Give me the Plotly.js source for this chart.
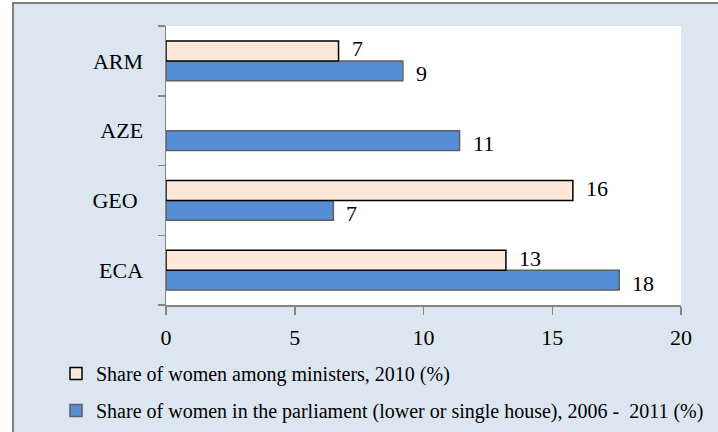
<!DOCTYPE html>
<html>
<head>
<meta charset="utf-8">
<script src="https://cdn.plot.ly/plotly-3.0.1.min.js"></script>
<style>
  html, body { margin: 0; padding: 0; background: #ffffff; }
  #chart { width: 718px; height: 432px; }
</style>
</head>
<body>
<div id="chart"></div>
<script>
// Countries / regions, listed bottom to top
const countries = ['ECA', 'GEO', 'AZE', 'ARM'];
// Axis labels for the countries (GEO carries a trailing space)
const countryLabels = ['ECA', 'GEO\u00a0', 'AZE', 'ARM'];

// Share of women among ministers, 2010 (%)
const ministersName = 'Share of women among ministers, 2010 (%)';
const ministers = [13.2, 15.8, null, 6.7];

// Share of women in the parliament (lower or single house), 2006-2011 (%)
const parliamentName = 'Share of women in the parliament (lower or single house), 2006 -  2011 (%)';
const parliament = [17.6, 6.5, 11.4, 9.2];

const xTicks = [0, 5, 10, 15, 20];

const chartTitle = "Women's political participation (%)";

const serif = 'Liberation Serif, Times New Roman, serif';
const axisGrey = '#868686';

// Plot area in pixels
const W = 718, H = 432;
const M = { l: 166, r: 37, t: 26, b: 127, autoexpand: false };
const pw = W - M.l - M.r, ph = H - M.t - M.b;
const px = v => (v - M.l) / pw;      // container x pixel -> paper x
const py = v => (H - M.b - v) / ph;  // container y pixel -> paper y

const traces = [
  {
    type: 'bar', orientation: 'h',
    name: parliamentName,
    y: countries, x: parliament,
    marker: { color: '#558ED5', line: { color: '#5f5f5f', width: 1.5 } },
    legendgroup: 'parl', legendrank: 2,
    hoverinfo: 'x+y'
  },
  {
    type: 'bar', orientation: 'h',
    name: ministersName,
    y: countries, x: ministers,
    marker: { color: '#FDE9D9', line: { color: '#000000', width: 1.5 } },
    legendgroup: 'min', legendrank: 1,
    hoverinfo: 'x+y'
  }
];

// Value labels next to each bar end
const labels = [];
function addLabels(values, shiftY) {
  values.forEach((v, i) => {
    if (v === null) return;
    labels.push({
      x: v, y: countries[i], xref: 'x', yref: 'y',
      text: String(Math.round(v)),
      showarrow: false, xanchor: 'left', yanchor: 'middle',
      xshift: 11, yshift: shiftY,
      font: { family: serif, size: 22, color: '#000000' }
    });
  });
}
addLabels(ministers, 12);
addLabels(parliament, -13);

// Title, sitting at the top edge of the page
labels.push({
  xref: 'paper', yref: 'paper', x: px(7), y: 1,
  xanchor: 'left', yanchor: 'bottom', yshift: 24,
  text: '<b>' + chartTitle + '</b>', showarrow: false,
  font: { family: serif, size: 32, color: '#000000' }
});

const layout = {
  width: W, height: H,
  margin: M,
  paper_bgcolor: '#ffffff',
  plot_bgcolor: 'rgba(0,0,0,0)',
  barmode: 'group',
  bargap: 0.43,
  bargroupgap: 0,
  showlegend: true,
  legend: {
    x: px(56), y: py(354), xanchor: 'left', yanchor: 'top',
    orientation: 'v', tracegroupgap: 8,
    bgcolor: 'rgba(0,0,0,0)',
    font: { family: serif, size: 20, color: '#000000' }
  },
  xaxis: {
    range: [0, 20], tickvals: xTicks, ticktext: xTicks.map(String),
    showgrid: false, zeroline: false,
    showline: true, linecolor: axisGrey, linewidth: 1.5,
    ticks: 'outside', ticklen: 8, tickcolor: axisGrey, tickwidth: 1.5,
    ticklabelstandoff: 4,
    tickfont: { family: serif, size: 22, color: '#000000' },
    fixedrange: true
  },
  yaxis: {
    type: 'category', categoryorder: 'array', categoryarray: countries,
    tickvals: countries, ticktext: countryLabels,
    range: [-0.5, countries.length - 0.5],
    tickson: 'boundaries',
    showgrid: false, zeroline: false,
    showline: true, linecolor: axisGrey, linewidth: 1.5,
    ticks: 'outside', ticklen: 7, tickcolor: axisGrey, tickwidth: 1.5,
    ticklabelstandoff: 17,
    tickfont: { family: serif, size: 22, color: '#000000' },
    fixedrange: true
  },
  shapes: [
    // light blue frame around the chart
    {
      type: 'rect', xref: 'paper', yref: 'paper', layer: 'below',
      x0: px(13), x1: px(740), y0: py(450), y1: py(3),
      fillcolor: '#DCE6F1', line: { color: '#808080', width: 2 }
    },
    // white plot area
    {
      type: 'rect', xref: 'paper', yref: 'paper', layer: 'below',
      x0: 0, x1: 1, y0: 0, y1: 1,
      fillcolor: '#ffffff', line: { width: 0 }
    }
  ],
  annotations: labels
};

Plotly.newPlot('chart', traces, layout, { displayModeBar: false, staticPlot: true });
</script>
</body>
</html>
